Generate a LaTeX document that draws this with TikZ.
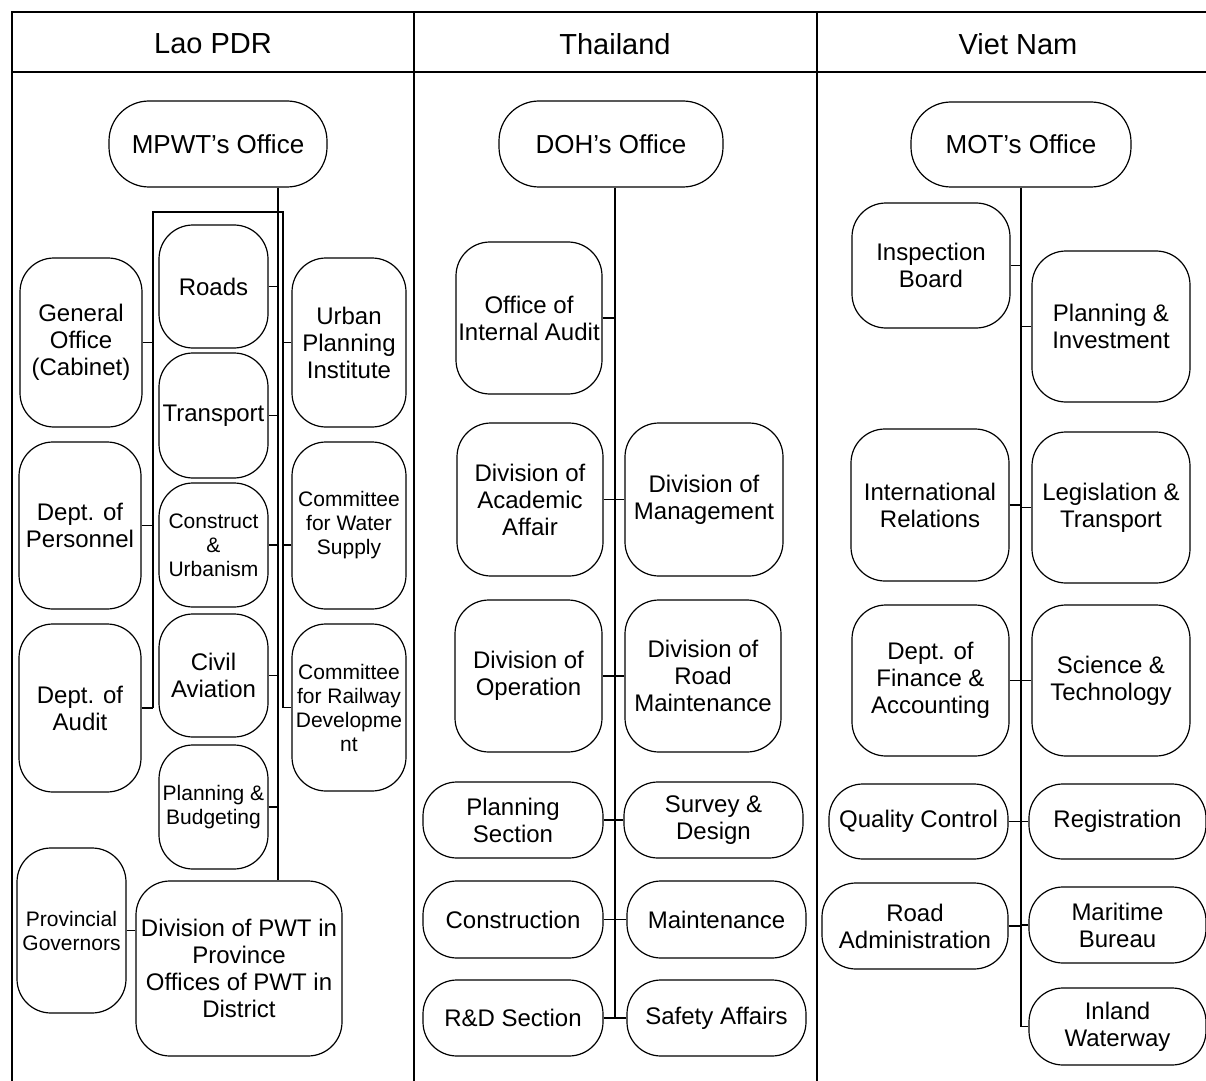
\documentclass[tikz,border=0pt]{standalone}
\usepackage{fontspec}
\setmainfont{Liberation Sans}
\usetikzlibrary{positioning,calc}

\begin{document}
\begin{tikzpicture}[x=0.5pt,y=-0.5pt,
  unit/.style={draw,line width=0.6pt,rounded corners=17pt,align=center,
    inner sep=0pt,font=\fontsize{12}{13.5}\selectfont},
  wh/.style 2 args={minimum width=#1*0.5pt,minimum height=#2*0.5pt},
  small/.style={font=\fontsize{10.5}{12}\selectfont},
  office/.style={unit,rounded corners=20pt,font=\fontsize{13}{15}\selectfont},
  head/.style={font=\fontsize{14.5}{17}\selectfont},
  grid/.style={line width=1.3pt},
  link/.style={line width=0.6pt}]
  \useasboundingbox (0,0) rectangle (1206,1081);
  % table
  \draw[grid] (12,1081) -- (12,12) -- (1206,12);
  \draw[grid] (12,72) -- (1206,72);
  \draw[grid] (414,12) -- (414,1081);
  \draw[grid] (817,12) -- (817,1081);
  \node[head] (hlao) at (213,44) {Lao PDR};
  \node[head] (htha) at (615,44) {Thailand};
  \node[head] (hvie) at (1018,44) {Viet Nam};

  % Lao PDR
  \node[office,wh={218}{86}] (mpwt) at (218,144) {MPWT’s Office};
  \node[unit,wh={122}{169}] (genoff) at (81,342.5) {General\\Office\\(Cabinet)};
  \node[unit,wh={122}{167}] (pers) at (80,525.5) {Dept. of\\Personnel};
  \node[unit,wh={122}{168}] (daudit) at (80,708) {Dept. of\\Audit};
  \node[unit,wh={109}{123}] (roads) at (213.5,286.5) {Roads};
  \node[unit,wh={109}{125}] (transp) at (213.5,415.5) {Transport};
  \node[unit,small,wh={109}{124}] (cons) at (213.5,545) {Construct\\\&\\Urbanism};
  \node[unit,wh={109}{123}] (civil) at (213.5,675.5) {Civil\\Aviation};
  \node[unit,small,wh={109}{124}] (plbud) at (213.5,807) {Planning \&\\Budgeting};
  \node[unit,wh={114}{169}] (urban) at (349,342.5) {Urban\\Planning\\Institute};
  \node[unit,small,wh={114}{167}] (water) at (349,525.5) {Committee\\for Water\\Supply};
  \node[unit,small,wh={114}{167}] (rail) at (349,707.5) {Committee\\for Railway\\Developme\\nt};
  \node[unit,small,wh={109}{165}] (prov) at (71.5,930.5) {Provincial\\Governors};
  \node[unit,wh={206}{175}] (pwt) at (239,968.5)
    {Division of PWT in\\Province\\Offices of PWT in\\District};
  \coordinate (lb) at (278,212);
  \coordinate (ll) at (153,212);
  \coordinate (lr) at (283,212);
  \draw[link] (mpwt.south -| lb) -- (pwt.north -| lb);
  \draw[link] (ll |- daudit.east) -- (ll) -- (lr) -- (lr |- rail.west);
  \foreach \n in {genoff,pers,daudit}
    \draw[link] (\n.east) -- (\n.east -| ll);
  \foreach \n in {roads,transp,cons,civil,plbud}
    \draw[link] (\n.east) -- (\n.east -| lb);
  \foreach \n in {urban,rail}
    \draw[link] (\n.west) -- (\n.west -| lr);
  \draw[link] (water.west |- cons.east) -- (lr |- cons.east);
  \draw[link] (prov.east) -- (prov.east -| pwt.west);

  % Thailand
  \node[office,wh={224}{86}] (doh) at (611,144) {DOH’s Office};
  \node[unit,wh={146}{152}] (intaud) at (529,318) {Office of\\Internal Audit};
  \node[unit,wh={146}{153}] (acad) at (530,499.5) {Division of\\Academic\\Affair};
  \node[unit,wh={158}{153}] (mgmt) at (704,499.5) {Division of\\Management};
  \node[unit,wh={147}{152}] (oper) at (528.5,676) {Division of\\Operation};
  \node[unit,wh={156}{152}] (roadm) at (703,676) {Division of\\Road\\Maintenance};
  \node[unit,wh={180}{76}] (plsec) at (513,820) {Planning\\Section};
  \node[unit,wh={179}{76}] (survey) at (713.5,820) {Survey \&\\Design};
  \node[unit,wh={180}{77}] (constr) at (513,919.5) {Construction};
  \node[unit,wh={179}{77}] (maint) at (716.5,919.5) {Maintenance};
  \node[unit,wh={180}{76}] (rnd) at (513,1018) {R\&D Section};
  \node[unit,wh={179}{76}] (safety) at (716.5,1018) {Safety Affairs};
  \coordinate (tb) at (615,1018);
  \draw[link] (doh.south -| tb) -- (tb);
  \foreach \n in {intaud,acad,oper,plsec,constr,rnd}
    \draw[link] (\n.east) -- (\n.east -| tb);
  \foreach \n in {mgmt,roadm,survey,maint,safety}
    \draw[link] (\n.west) -- (\n.west -| tb);

  % Viet Nam
  \node[office,wh={220}{85}] (mot) at (1021,144.5) {MOT’s Office};
  \node[unit,wh={158}{125}] (insp) at (931,265.5) {Inspection\\Board};
  \node[unit,wh={158}{151}] (plinv) at (1111,326.5) {Planning \&\\Investment};
  \node[unit,wh={158}{152}] (intrel) at (930,505) {International\\Relations};
  \node[unit,wh={158}{151}] (legis) at (1111,507.5) {Legislation \&\\Transport};
  \node[unit,wh={157}{151}] (fin) at (930.5,680.5) {Dept. of\\Finance \&\\Accounting};
  \node[unit,wh={158}{151}] (sci) at (1111,680.5) {Science \&\\Technology};
  \node[unit,wh={179}{75}] (qc) at (918.5,821.5) {Quality Control};
  \node[unit,wh={177}{75}] (reg) at (1117.5,821.5) {Registration};
  \node[unit,wh={186}{86}] (roadad) at (915,926) {Road\\Administration};
  \node[unit,wh={177}{76}] (marit) at (1117.5,925) {Maritime\\Bureau};
  \node[unit,wh={177}{77}] (inland) at (1117.5,1026.5) {Inland\\Waterway};
  \draw[link] (mot.south) -- (mot.south |- inland.west) -- (inland.west);
  \foreach \n in {insp,intrel,fin,qc,roadad}
    \draw[link] (\n.east) -- (\n.east -| mot.south);
  \foreach \n in {plinv,legis,sci,reg,marit}
    \draw[link] (\n.west) -- (\n.west -| mot.south);
\end{tikzpicture}
\end{document}
